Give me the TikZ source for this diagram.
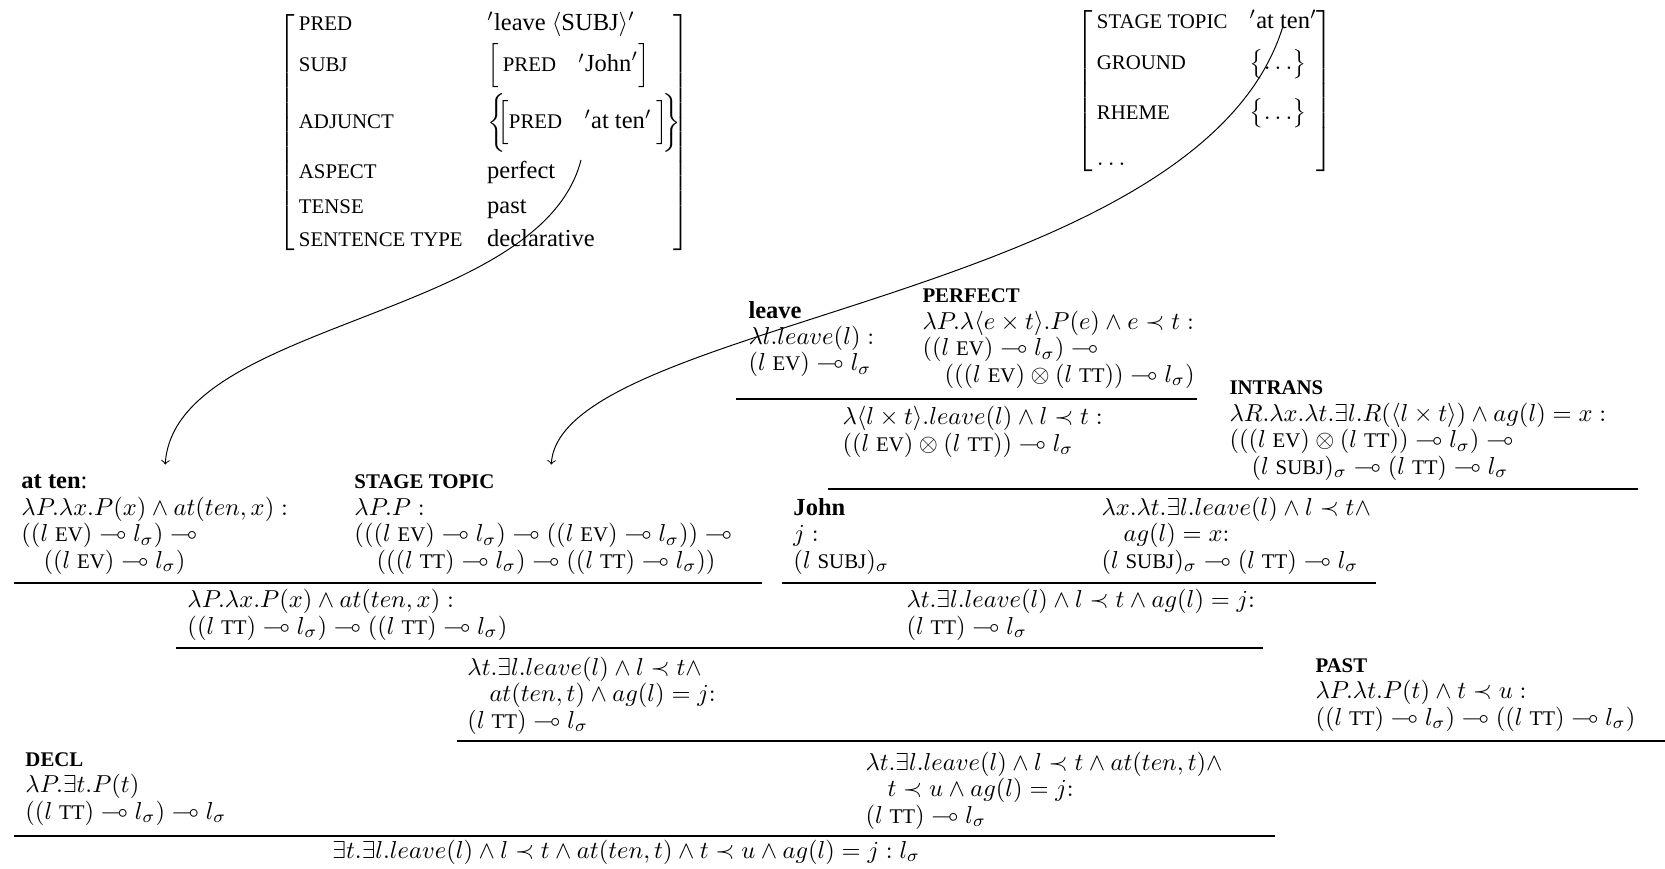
\documentclass[tikz,border=0pt]{standalone}
\usepackage{amsmath,amssymb}
\usepackage[no-math]{fontspec}
\setmainfont{Liberation Serif}
\newfontfamily\capsfont[Scale=0.85]{Liberation Serif}
\newcommand\fv[1]{\text{\capsfont #1}}
\newcommand\rn[1]{\textbf{\capsfont #1}}
\newcommand\lol{\multimap}
\begin{document}
\begin{tikzpicture}[x=0.408pt, y=-0.408pt, prem/.style={
		anchor=base west,
		inner sep=0pt,
		align=left,
		font=\fontsize{10}{10.8}\selectfont
	},
	bar/.style={line width=1.1pt},
	fs/.style={anchor=north west, inner sep=0pt}
	]
	\useasboundingbox (0,0) rectangle (1665,869);
	
	%f-Struktur
	\node[fs] (fstr) at (278,9) {$\left[\begin{array}{@{\,}l@{\hspace{10pt}}l@{}}
			\fv{PRED} & '\text{leave }\langle\text{SUBJ}\rangle' \\[2pt]
			\fv{SUBJ} & \Bigl[\,\fv{PRED}\hspace{9pt}'\text{John}'\Bigr] \\[5pt]
			\fv{ADJUNCT} & \biggl\{\mkern-6mu\Bigl[\fv{PRED}\hspace{9pt}'\text{at ten}'\hspace{2pt}\Bigr]\mkern-4mu\biggr\}\hspace{-3pt} \\[8.4pt]
			\fv{ASPECT} & \text{perfect} \\[2.1pt]
			\fv{TENSE} & \text{past} \\[1.7pt]
			\fv{SENTENCE TYPE} & \text{declarative}
		\end{array}\right]$};
	%i-Struktur
	\node[fs] (istr) at (1076,7) {$\left[\begin{array}{@{\,}l@{\hspace{9pt}}l@{}}
			\fv{STAGE TOPIC} & '\text{at ten}' \\[5pt]
			\fv{GROUND} & \bigl\{\ldots\bigr\} \\[8pt]
			\fv{RHEME} & \bigl\{\ldots\bigr\} \\[7pt]
			\ldots &
		\end{array}\right]$};
	
	%Praemissen (Anker = letzte Zeile)
	\node[prem] (leave) at (748,371) {\textbf{leave}\\ $\lambda l.leave(l):$\\ $(l\;\fv{EV})\lol l_\sigma$};
	\node[prem] (perfect) at (922,382) {\rn{PERFECT}\\ $\lambda P.\lambda\langle e\times t\rangle.P(e)\wedge e\prec t:$\\ $((l\;\fv{EV})\lol l_\sigma)\lol$\\ \hspace{9pt}$(((l\;\fv{EV})\otimes(l\;\fv{TT}))\lol l_\sigma)$};
	\node[prem] (intrans) at (1229,474) {\rn{INTRANS}\\ $\lambda R.\lambda x.\lambda t.\exists l.R(\langle l\times t\rangle)\wedge ag(l)=x:$\\ $(((l\;\fv{EV})\otimes(l\;\fv{TT}))\lol l_\sigma)\lol$\\ \hspace{9pt}$(l\;\fv{SUBJ})_\sigma\lol(l\;\fv{TT})\lol l_\sigma$};
	\node[prem] (john) at (793,568) {\textbf{John}\\ $j:$\\ $(l\;\fv{SUBJ})_\sigma$};
	\node[prem] (atten) at (21,568) {\textbf{at ten}:\\ $\lambda P.\lambda x.P(x)\wedge at(ten,x):$\\ $((l\;\fv{EV})\lol l_\sigma)\lol$\\ \hspace{9pt}$((l\;\fv{EV})\lol l_\sigma)$};
	\node[prem] (stage) at (354,568) {\rn{STAGE TOPIC}\\ $\lambda P.P:$\\ $(((l\;\fv{EV})\lol l_\sigma)\lol((l\;\fv{EV})\lol l_\sigma))\lol$\\ \hspace{9pt}$(((l\;\fv{TT})\lol l_\sigma)\lol((l\;\fv{TT})\lol l_\sigma))$};
	\node[prem] (past) at (1315,725) {\rn{PAST}\\ $\lambda P.\lambda t.P(t)\wedge t\prec u:$\\ $((l\;\fv{TT})\lol l_\sigma)\lol((l\;\fv{TT})\lol l_\sigma)$};
	\node[prem] (decl) at (25,819) {\rn{DECL}\\ $\lambda P.\exists t.P(t)$\\ $((l\;\fv{TT})\lol l_\sigma)\lol l_\sigma$};
	
	%Schritte
	\node[prem] (lt) at (842,451) {$\lambda\langle l\times t\rangle.leave(l)\wedge l\prec t:$\\ $((l\;\fv{EV})\otimes(l\;\fv{TT}))\lol l_\sigma$};
	\node[prem] (lxt) at (1101,568) {$\lambda x.\lambda t.\exists l.leave(l)\wedge l\prec t\wedge$\\ \hspace{9pt}$ag(l)=x{:}$\\ $(l\;\fv{SUBJ})_\sigma\lol(l\;\fv{TT})\lol l_\sigma$};
	\node[prem] (atten-tt) at (187,634) {$\lambda P.\lambda x.P(x)\wedge at(ten,x):$\\ $((l\;\fv{TT})\lol l_\sigma)\lol((l\;\fv{TT})\lol l_\sigma)$};
	\node[prem] (john-tt) at (906,634) {$\lambda t.\exists l.leave(l)\wedge l\prec t\wedge ag(l)=j{:}$\\ $(l\;\fv{TT})\lol l_\sigma$};
	\node[prem] (atten-j) at (467,728) {$\lambda t.\exists l.leave(l)\wedge l\prec t\wedge$\\ \hspace{9pt}$at(ten,t)\wedge ag(l)=j{:}$\\ $(l\;\fv{TT})\lol l_\sigma$};
	\node[prem] (past-j) at (865,823) {$\lambda t.\exists l.leave(l)\wedge l\prec t\wedge at(ten,t)\wedge$\\ \hspace{9pt}$t\prec u\wedge ag(l)=j{:}$\\ $(l\;\fv{TT})\lol l_\sigma$};
	\node[prem] (final) at (332,858) {$\exists t.\exists l.leave(l)\wedge l\prec t\wedge at(ten,t)\wedge t\prec u\wedge ag(l)=j:l_\sigma$};
	
	\draw[bar] (736,399) -- (1197,399);
	\draw[bar] (828,489) -- (1638,489);
	\draw[bar] (14,583) -- (762,583);
	\draw[bar] (782,583) -- (1376,583);
	\draw[bar] (176,648) -- (1263,648);
	\draw[bar] (457,741) -- (1665,741);
	\draw[bar] (14,836) -- (1275,836);
	
	%Verweise
	\coordinate (adj-ten) at (581,160);
	\coordinate (st-ten) at (1283,26);
	\draw[->, shorten >=4pt] (adj-ten) .. controls (540,320) and (175,320) .. ([xshift=4pt]atten.north);
	\draw[->, shorten >=4pt] (st-ten) .. controls (1200,300) and (560,320) .. ([xshift=3pt]stage.north);
\end{tikzpicture}
\end{document}
